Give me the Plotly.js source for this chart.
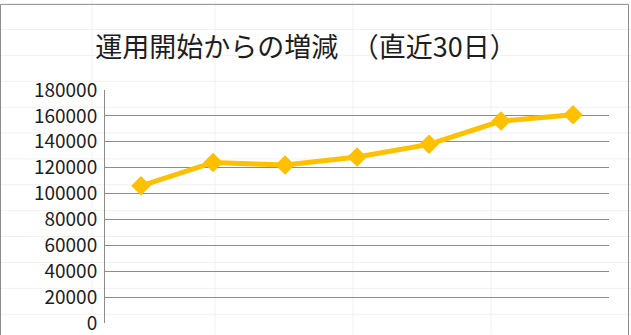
<!DOCTYPE html>
<html>
<head>
<meta charset="utf-8">
<script src="https://cdn.plot.ly/plotly-3.0.1.min.js"></script>
<style>html,body{margin:0;padding:0;background:#fff;}#chart{width:631px;height:335px;}</style>
</head>
<body>
<div id="chart"></div>
<script>
const categories = ["1", "2", "3", "4", "5", "6", "7"];
const values = [106000, 124000, 122000, 128300, 138000, 156000, 160800];
const yTicks = [0, 20000, 40000, 60000, 80000, 100000, 120000, 140000, 160000, 180000];
const titleText = "運用開始からの増減　（直近30日）";

const W = 631, H = 335;
const L = 105, R = 609, T = 89.5, B = 323.5;
const px = x => (x - L) / (R - L);
const py = y => (B - y) / (B - T);

const shapes = [];
// faint spreadsheet cell lines
const rowYs = [28.7, 54.7, 80.7, 106.7, 132.7, 158.7, 184.7, 210.7, 236.7, 262.7, 288.7, 314.7];
const colXs = [92, 215, 353, 491];
rowYs.forEach(y => shapes.push({type:'line', xref:'paper', yref:'paper', x0:px(0), x1:px(W), y0:py(y), y1:py(y), line:{color:'#f1f1f1', width:1}, layer:'below'}));
colXs.forEach(x => shapes.push({type:'line', xref:'paper', yref:'paper', x0:px(x), x1:px(x), y0:py(0), y1:py(H), line:{color:'#f1f1f1', width:1}, layer:'below'}));
// chart border
shapes.push({type:'line', xref:'paper', yref:'paper', x0:px(0.5), x1:px(628.5), y0:py(3.5), y1:py(3.5), line:{color:'#8c8c8c', width:1}});
shapes.push({type:'line', xref:'paper', yref:'paper', x0:px(0.5), x1:px(0.5), y0:py(3.5), y1:py(H+2), line:{color:'#8c8c8c', width:1}});
shapes.push({type:'line', xref:'paper', yref:'paper', x0:px(628.5), x1:px(628.5), y0:py(3.5), y1:py(H+2), line:{color:'#8c8c8c', width:1}});

const trace = {
  type: 'scatter',
  mode: 'lines+markers',
  x: categories,
  y: values,
  line: {color: '#FFC000', width: 5},
  marker: {symbol: 'diamond', size: 15, color: '#FFC000', line: {width: 0}},
  hoverinfo: 'skip'
};

const layout = {
  width: W, height: H,
  margin: {l: L, r: W - R, t: T, b: H - B, pad: 0},
  paper_bgcolor: '#ffffff',
  plot_bgcolor: 'rgba(0,0,0,0)',
  showlegend: false,
  hovermode: false,
  font: {family: '"Noto Sans CJK JP", "Noto Sans", sans-serif', color: '#1e1e1e'},
  title: {
    text: titleText,
    font: {size: 27, color: '#1e1e1e', family: '"Noto Sans CJK JP", sans-serif'},
    xref: 'container', yref: 'container',
    x: 306 / W, xanchor: 'center',
    y: 1 - 48 / H, yanchor: 'middle'
  },
  xaxis: {
    type: 'category',
    range: [-0.5, categories.length - 0.5],
    showticklabels: false,
    showgrid: false,
    zeroline: false,
    showline: false,
    ticks: '',
    fixedrange: true
  },
  yaxis: {
    range: [0, 180000],
    tickvals: yTicks,
    ticktext: yTicks.map(String),
    showgrid: true,
    gridcolor: '#8c8c8c',
    gridwidth: 1,
    zeroline: false,
    showline: true,
    linecolor: '#8c8c8c',
    linewidth: 1,
    ticks: '',
    ticklabelstandoff: 3,
    tickfont: {size: 19, color: '#1e1e1e', family: '"Noto Sans CJK JP", sans-serif'},
    fixedrange: true
  },
  shapes: shapes
};

Plotly.newPlot('chart', [trace], layout, {displayModeBar: false, staticPlot: true});
</script>
</body>
</html>
